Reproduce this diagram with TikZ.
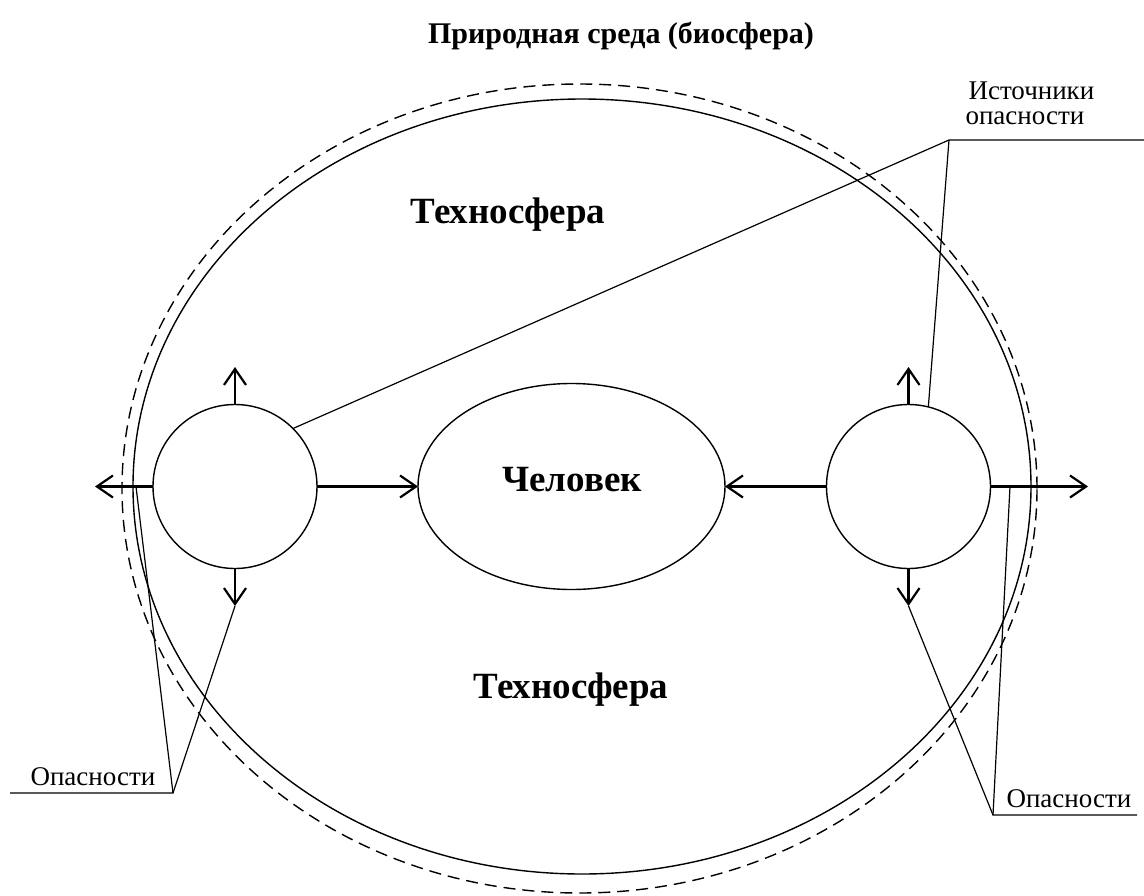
\documentclass[tikz,border=0pt]{standalone}
\usepackage{fontspec}
\setmainfont{Liberation Serif}
\usetikzlibrary{arrows.meta,shapes.geometric}
\begin{document}
\begin{tikzpicture}[x=1pt,y=-1pt,
  outline/.style={draw, line width=1.4pt, inner sep=0pt, outer sep=0pt},
  bioring/.style={outline, ellipse, dash pattern=on 12pt off 7pt},
  techring/.style={outline, ellipse},
  srcnode/.style={outline, circle, minimum size=164pt},
  arr/.style={line width=2.2pt, -{Straight Barb[length=16pt,width=22pt,line width=2.2pt]}},
  lead/.style={line width=1.2pt},
  bigtext/.style={font=\fontsize{37}{40}\selectfont\bfseries},
  titletext/.style={font=\fontsize{30}{34}\selectfont\bfseries},
  labeltext/.style={font=\fontsize{27}{33}\selectfont}]
\useasboundingbox (0,0) rectangle (1144,895);
% title
\node[titletext, anchor=base] (title) at (621,43) {Природная среда (биосфера)};
% rings
\node[bioring, minimum width=915pt, minimum height=809pt] (bio) at (579.5,488.5) {};
\node[techring, minimum width=898pt, minimum height=775pt] (tech) at (582,486.5) {};
\node[bigtext] (techA) at (508,215) {Техносфера};
\node[bigtext] (techB) at (571,690) {Техносфера};
% man
\node[outline, ellipse, minimum width=307pt, minimum height=206pt] (man) at (571.5,486.5) {};
\node[bigtext] (manT) at (572,480) {Человек};
% sources
\node[srcnode] (s1) at (235,486.5) {};
\node[srcnode] (s2) at (908.5,486.5) {};
% arrow tips
\coordinate (s1up) at (235,367);
\coordinate (s1dn) at (235,606);
\coordinate (s1lt) at (95,486.5);
\coordinate (s2up) at (908.5,367);
\coordinate (s2dn) at (908.5,606);
\coordinate (s2rt) at (1088,486.5);
\draw[arr] (s1.north) -- (s1up);
\draw[arr] (s1.south) -- (s1dn);
\draw[arr] (s1.west) -- (s1lt);
\draw[arr] (s1.east) -- (man.west);
\draw[arr] (s2.north) -- (s2up);
\draw[arr] (s2.south) -- (s2dn);
\draw[arr] (s2.east) -- (s2rt);
\draw[arr] (s2.west) -- (man.east);
% source label
\node[labeltext, anchor=base west] (srcT1) at (965,99) {Источники};
\node[labeltext, anchor=base west] (srcT2) at (962,124) {опасности};
\coordinate (srcK) at (949,140);
\coordinate (srcE) at (1144,140);
\draw[lead] (srcE) -- (srcK) -- (s1.45);
\draw[lead] (srcK) -- (s2.76);
% left danger label
\node[labeltext, anchor=base west] (dgL) at (27,785) {Опасности};
\coordinate (dgLk) at (173,793);
\coordinate (dgLs) at (10,793);
\coordinate (dgLa) at (136,486.5);
\draw[lead] (dgLs) -- (dgLk) -- (dgLa);
\draw[lead] (dgLk) -- (s1dn);
% right danger label
\node[labeltext, anchor=base west] (dgR) at (1003,807) {Опасности};
\coordinate (dgRk) at (993,815);
\coordinate (dgRe) at (1137,815);
\coordinate (dgRa) at (1010,486.5);
\draw[lead] (dgRe) -- (dgRk) -- (dgRa);
\draw[lead] (dgRk) -- (s2dn);
\end{tikzpicture}
\end{document}
